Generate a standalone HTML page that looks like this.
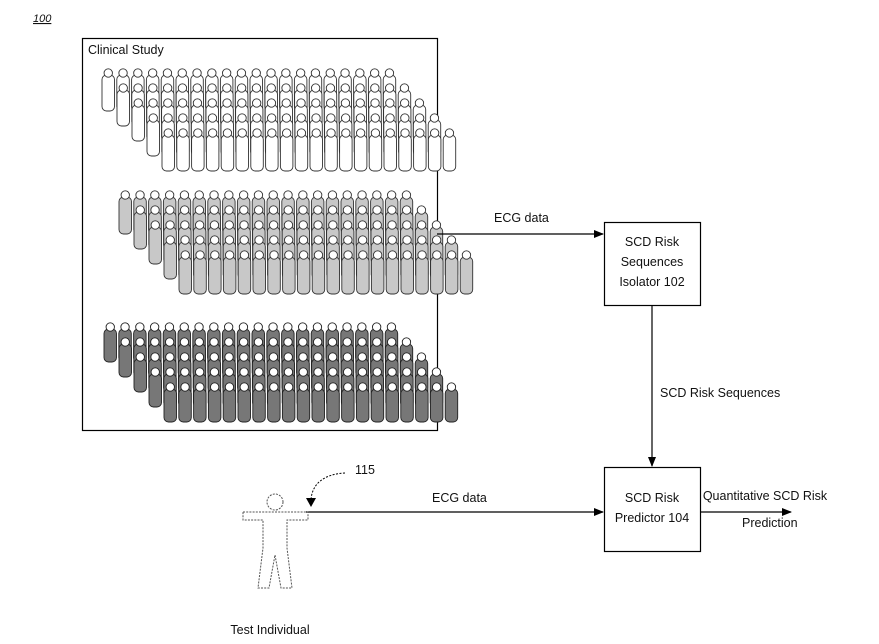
<!DOCTYPE html>
<html><head><meta charset="utf-8"><style>
body{margin:0;background:#fff;width:879px;height:639px;overflow:hidden;font-family:"Liberation Sans",sans-serif}
svg text{font-family:"Liberation Sans",sans-serif;font-size:12.5px;fill:#111}
</style></head><body>
<svg id="s" width="879" height="639" xmlns="http://www.w3.org/2000/svg">
<defs>
<marker id="a" markerWidth="10" markerHeight="8" refX="9" refY="4" orient="auto" markerUnits="userSpaceOnUse"><path d="M0,0 L10,4 L0,8 z" fill="#000"/></marker>
</defs>
<text x="33" y="22" style="font-style:italic;font-size:11px;text-decoration:underline">100</text>
<rect x="82.5" y="38.5" width="355" height="392" fill="none" stroke="#000" stroke-width="1.2"/>
<text x="88" y="54">Clinical Study</text>
<g id="crowd"></g>
<rect x="604.5" y="222.5" width="96" height="83" fill="#fff" stroke="#000" stroke-width="1.2"/>
<text x="652" y="246" text-anchor="middle">SCD Risk</text>
<text x="652" y="266" text-anchor="middle">Sequences</text>
<text x="652" y="286" text-anchor="middle">Isolator 102</text>
<rect x="604.5" y="467.5" width="96" height="84" fill="#fff" stroke="#000" stroke-width="1.2"/>
<text x="652" y="502" text-anchor="middle">SCD Risk</text>
<text x="652" y="522" text-anchor="middle">Predictor 104</text>
<line x1="437" y1="234" x2="603" y2="234" stroke="#000" stroke-width="1.2" marker-end="url(#a)"/>
<text x="494" y="222">ECG data</text>
<line x1="652" y1="306" x2="652" y2="466" stroke="#000" stroke-width="1.2" marker-end="url(#a)"/>
<text x="660" y="397">SCD Risk Sequences</text>
<line x1="306" y1="512" x2="603" y2="512" stroke="#000" stroke-width="1.2" marker-end="url(#a)"/>
<text x="432" y="502">ECG data</text>
<line x1="701" y1="512" x2="791" y2="512" stroke="#000" stroke-width="1.2" marker-end="url(#a)"/>
<text x="765" y="500" text-anchor="middle">Quantitative SCD Risk</text>
<text x="742" y="527">Prediction</text>
<text x="355" y="474">115</text>
<path d="M345,473 C325,474 312,483 311,500" fill="none" stroke="#000" stroke-dasharray="2,1.5"/>
<path d="M306,498 L316,498 L311,507 z" fill="#000"/>
<g fill="none" stroke="#555" stroke-dasharray="2,1.2" stroke-width="1">
<circle cx="275" cy="502" r="8"/>
<path d="M243,512 L308,512 L308,520 L287,520 L287,548 L292,588 L281,588 L275,555 L269,588 L258,588 L263,548 L263,520 L243,520 z"/>
</g>
<text x="270" y="634" text-anchor="middle">Test Individual</text>
</svg>
<script>
var g=document.getElementById('crowd'),h='';
function grp(x0,y0,fill,stroke,hgt){
 for(var r=0;r<5;r++){
  for(var c=0;c<20;c++){
   var x=x0+r*15+c*14.8,y=y0+r*15;
   h+='<rect x="'+x+'" y="'+(y+7)+'" width="12.5" height="'+hgt+'" rx="4.5" fill="'+fill+'" stroke="'+stroke+'" stroke-width="0.9"/>';
   h+='<circle cx="'+(x+6.25)+'" cy="'+(y+5)+'" r="4.2" fill="#fff" stroke="'+stroke+'" stroke-width="0.9"/>';
  }
 }
}
grp(102,68,'#fff','#333',36);
grp(119,190,'#c8c8c8','#333',37);
grp(104,322,'#777','#222',33);
g.innerHTML=h;
</script>
</body></html>
